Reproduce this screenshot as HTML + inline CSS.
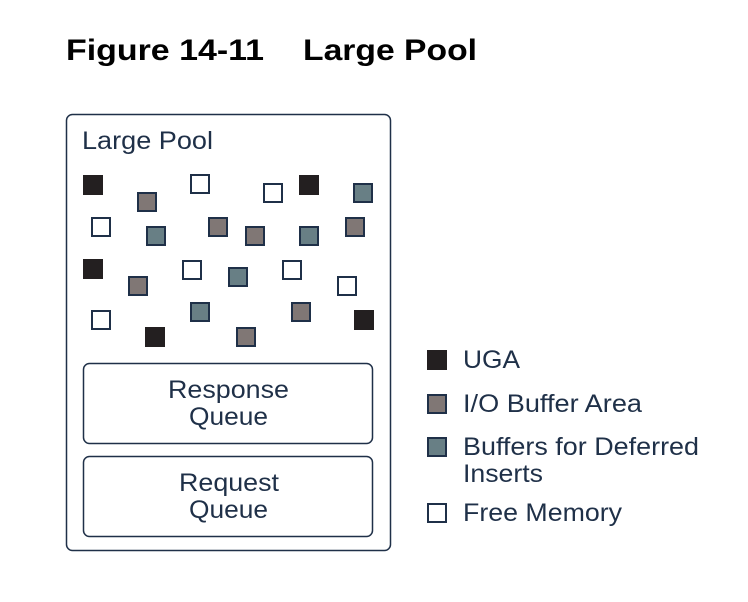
<!DOCTYPE html>
<html><head><style>body{margin:0;background:#fff}svg{display:block}</style></head><body>
<svg width="748" height="602" xmlns="http://www.w3.org/2000/svg" font-family="Liberation Sans, sans-serif">
<text x="66" y="60" font-size="30" font-weight="bold" fill="#000" textLength="198" lengthAdjust="spacingAndGlyphs">Figure 14-11</text>
<text x="303" y="60" font-size="30" font-weight="bold" fill="#000" textLength="174" lengthAdjust="spacingAndGlyphs">Large Pool</text>
<rect x="66.5" y="114.5" width="324" height="436" rx="6" fill="#fff" stroke="#1f3048" stroke-width="1.5"/>
<text x="82" y="149" font-size="25" fill="#1f3048" textLength="131" lengthAdjust="spacingAndGlyphs">Large Pool</text>
<g stroke="#1f3048" stroke-width="2">
<g fill="#231f20" stroke="#231f20"><rect x="84" y="176" width="18" height="18"/><rect x="300" y="176" width="18" height="18"/><rect x="84" y="260" width="18" height="18"/><rect x="355" y="311" width="18" height="18"/><rect x="146" y="328" width="18" height="18"/></g>
<g fill="#807775"><rect x="138" y="193" width="18" height="18"/><rect x="209" y="218" width="18" height="18"/><rect x="246" y="227" width="18" height="18"/><rect x="346" y="218" width="18" height="18"/><rect x="129" y="277" width="18" height="18"/><rect x="292" y="303" width="18" height="18"/><rect x="237" y="328" width="18" height="18"/></g>
<g fill="#687f85"><rect x="354" y="184" width="18" height="18"/><rect x="147" y="227" width="18" height="18"/><rect x="300" y="227" width="18" height="18"/><rect x="229" y="268" width="18" height="18"/><rect x="191" y="303" width="18" height="18"/></g>
<g fill="#fff"><rect x="191" y="175" width="18" height="18"/><rect x="264" y="184" width="18" height="18"/><rect x="92" y="218" width="18" height="18"/><rect x="183" y="261" width="18" height="18"/><rect x="283" y="261" width="18" height="18"/><rect x="338" y="277" width="18" height="18"/><rect x="92" y="311" width="18" height="18"/></g>
</g>
<rect x="83.5" y="363.5" width="289" height="80" rx="6" fill="#fff" stroke="#1f3048" stroke-width="1.5"/>
<text x="168" y="398" font-size="25" fill="#1f3048" textLength="121" lengthAdjust="spacingAndGlyphs">Response</text>
<text x="189" y="425" font-size="25" fill="#1f3048" textLength="79" lengthAdjust="spacingAndGlyphs">Queue</text>
<rect x="83.5" y="456.5" width="289" height="80" rx="6" fill="#fff" stroke="#1f3048" stroke-width="1.5"/>
<text x="179" y="491" font-size="25" fill="#1f3048" textLength="100" lengthAdjust="spacingAndGlyphs">Request</text>
<text x="189" y="518" font-size="25" fill="#1f3048" textLength="79" lengthAdjust="spacingAndGlyphs">Queue</text>
<g stroke="#1f3048" stroke-width="2">
<rect x="428" y="351" width="18" height="18" fill="#231f20" stroke="#231f20"/>
<rect x="428" y="395" width="18" height="18" fill="#807775"/>
<rect x="428" y="438" width="18" height="18" fill="#687f85"/>
<rect x="428" y="504" width="18" height="18" fill="#fff"/>
</g>
<g font-size="25" fill="#1f3048">
<text x="463" y="368" textLength="57" lengthAdjust="spacingAndGlyphs">UGA</text>
<text x="463" y="412" textLength="179" lengthAdjust="spacingAndGlyphs">I/O Buffer Area</text>
<text x="463" y="455" textLength="236" lengthAdjust="spacingAndGlyphs">Buffers for Deferred</text>
<text x="463" y="482" textLength="80" lengthAdjust="spacingAndGlyphs">Inserts</text>
<text x="463" y="521" textLength="159" lengthAdjust="spacingAndGlyphs">Free Memory</text>
</g>
</svg>
</body></html>
